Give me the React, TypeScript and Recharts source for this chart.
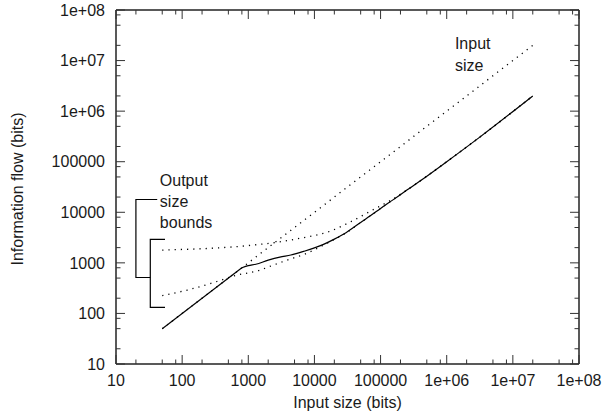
import React from 'react';
import { LineChart, Line, XAxis, YAxis, ReferenceDot, Label } from 'recharts';

const FONT = '"Liberation Sans", Arial, Helvetica, sans-serif';
const INK = '#1a1a1a';

// Measured information flow (solid): straight part, then curved part after the knee
const flowLinX = [50, 800];
const flowLinY = [50, 800];
const flowCurveX = [800, 1000, 1300, 2000, 3000, 4400, 7000, 10000, 14000, 20000, 30000, 50000, 70000, 100000, 150000, 250000, 400000, 1000000, 3200000, 20000000];
const flowCurveY = [800, 880, 940, 1130, 1300, 1430, 1700, 1980, 2350, 2950, 3950, 6300, 8500, 11900, 17200, 27500, 42000, 100000, 310000, 2000000];

// Input size (dotted, y = x)
const inputX = [50, 20000000];
const inputY = [50, 20000000];

// Output size upper bound (dotted)
const upperX = [50, 1200, 3000, 6000, 17500, 35000, 70000, 150000, 250000, 400000, 1000000, 3200000, 20000000];
const upperY = [1790, 2250, 2600, 3050, 4250, 6450, 10500, 18000, 27500, 42000, 100000, 310000, 2000000];

// Output size lower bound (dotted)
const lowerX = [50, 120, 380, 600, 1500, 2400, 4900, 7000, 10400, 17500, 30000, 50000, 70000, 100000, 150000, 250000, 400000, 1000000, 3200000, 20000000];
const lowerY = [224, 290, 450, 548, 720, 905, 1260, 1470, 1870, 2650, 3900, 6300, 8500, 11900, 17200, 27500, 42000, 100000, 310000, 2000000];

// Annotation brackets (data coordinates)
const outerBracketX = [42, 20, 20, 33];
const outerBracketY = [17900, 17900, 513, 513];
const innerBracketX = [55, 33, 33, 55];
const innerBracketY = [2920, 2920, 132, 132];

// Axis ticks
const majorTicks = [10, 100, 1000, 10000, 100000, 1000000, 10000000, 100000000];
const majorLabels = ['10', '100', '1000', '10000', '100000', '1e+06', '1e+07', '1e+08'];
const minorMultipliers = [2, 5, 8];

const allTicks: number[] = [];
majorTicks.forEach((m, i) => {
  allTicks.push(m);
  if (i < majorTicks.length - 1) minorMultipliers.forEach((k) => allTicks.push(k * m));
});
allTicks.sort((a, b) => a - b);

const toPts = (xs: number[], ys: number[]) => xs.map((x, i) => ({ x, y: ys[i] }));
const flowLinData = toPts(flowLinX, flowLinY);
const flowCurveData = toPts(flowCurveX, flowCurveY);
const inputData = toPts(inputX, inputY);
const upperData = toPts(upperX, upperY);
const lowerData = toPts(lowerX, lowerY);
const outerData = toPts(outerBracketX, outerBracketY);
const innerData = toPts(innerBracketX, innerBracketY);

const MAJOR_LEN = 9;
const MINOR_LEN = 4.5;
const TICK_STROKE = '#333';

const majorIndex = (v: number) => majorTicks.indexOf(v);

const BottomTick = (props: any) => {
  const { x, y, payload } = props;
  const mi = majorIndex(payload.value);
  const len = mi >= 0 ? MAJOR_LEN : MINOR_LEN;
  return (
    <g>
      <line x1={x} x2={x} y1={y} y2={y - len} stroke={TICK_STROKE} strokeWidth={1} />
      {mi >= 0 && (
        <text x={x} y={y + 22} textAnchor="middle" fontSize={16} fontFamily={FONT} fill={INK}>
          {majorLabels[mi]}
        </text>
      )}
    </g>
  );
};

const TopTick = (props: any) => {
  const { x, y, payload } = props;
  const len = majorIndex(payload.value) >= 0 ? MAJOR_LEN : MINOR_LEN;
  return <line x1={x} x2={x} y1={y} y2={y + len} stroke={TICK_STROKE} strokeWidth={1} />;
};

const LeftTick = (props: any) => {
  const { x, y, payload } = props;
  const mi = majorIndex(payload.value);
  const len = mi >= 0 ? MAJOR_LEN : MINOR_LEN;
  return (
    <g>
      <line x1={x} x2={x + len} y1={y} y2={y} stroke={TICK_STROKE} strokeWidth={1} />
      {mi >= 0 && (
        <text x={x - 11} y={y} dy="0.36em" textAnchor="end" fontSize={16} fontFamily={FONT} fill={INK}>
          {majorLabels[mi]}
        </text>
      )}
    </g>
  );
};

const RightTick = (props: any) => {
  const { x, y, payload } = props;
  const len = majorIndex(payload.value) >= 0 ? MAJOR_LEN : MINOR_LEN;
  return <line x1={x} x2={x - len} y1={y} y2={y} stroke={TICK_STROKE} strokeWidth={1} />;
};

const multiLineText = (lines: string[], gap: number) => (p: any) => (
  <text x={p.cx} y={p.cy} fontSize={16} fontFamily={FONT} fill={INK}>
    {lines.map((l, i) => (
      <tspan key={i} x={p.cx} dy={i === 0 ? 0 : gap}>
        {l}
      </tspan>
    ))}
  </text>
);

const axisLine = { stroke: '#222', strokeWidth: 1.5 };
const DOMAIN: [number, number] = [10, 100000000];

const dotted = { stroke: '#000', strokeWidth: 1.3, strokeDasharray: '1.2 5' };

export default function App() {
  return (
    <div style={{ position: 'absolute', left: 0, top: 0, width: 605, height: 419, background: '#fff' }}>
      <LineChart width={605} height={419} margin={{ top: 9, right: 25, bottom: 0, left: 0 }}>
        <XAxis
          xAxisId="b"
          dataKey="x"
          type="number"
          scale="log"
          domain={DOMAIN}
          ticks={allTicks}
          interval={0}
          orientation="bottom"
          height={55}
          tickSize={0}
          tickMargin={0}
          tickLine={false}
          axisLine={axisLine}
          tick={<BottomTick />}
          allowDataOverflow
        >
          <Label
            content={(p: any) => {
              const vb = p.viewBox;
              return (
                <text x={vb.x + vb.width / 2} y={vb.y + 44} textAnchor="middle" fontSize={16} fontFamily={FONT} fill={INK}>
                  Input size (bits)
                </text>
              );
            }}
          />
        </XAxis>
        <XAxis
          xAxisId="t"
          dataKey="x"
          type="number"
          scale="log"
          domain={DOMAIN}
          ticks={allTicks}
          interval={0}
          orientation="top"
          height={1}
          tickSize={0}
          tickMargin={0}
          tickLine={false}
          axisLine={axisLine}
          tick={<TopTick />}
          allowDataOverflow
        />
        <YAxis
          yAxisId="l"
          type="number"
          scale="log"
          domain={DOMAIN}
          ticks={allTicks}
          interval={0}
          orientation="left"
          width={116}
          tickSize={0}
          tickMargin={0}
          tickLine={false}
          axisLine={axisLine}
          tick={<LeftTick />}
          allowDataOverflow
        >
          <Label
            content={(p: any) => {
              const vb = p.viewBox;
              const cx = 22.5;
              const cy = vb.y + vb.height / 2 + 2;
              return (
                <text
                  x={cx}
                  y={cy}
                  transform={`rotate(-90, ${cx}, ${cy})`}
                  textAnchor="middle"
                  fontSize={16}
                  fontFamily={FONT}
                  fill={INK}
                >
                  Information flow (bits)
                </text>
              );
            }}
          />
        </YAxis>
        <YAxis
          yAxisId="r"
          type="number"
          scale="log"
          domain={DOMAIN}
          ticks={allTicks}
          interval={0}
          orientation="right"
          width={1}
          tickSize={0}
          tickMargin={0}
          tickLine={false}
          axisLine={axisLine}
          tick={<RightTick />}
          allowDataOverflow
        />

        <Line xAxisId="b" yAxisId="l" data={inputData} dataKey="y" type="linear" {...dotted} dot={false} isAnimationActive={false} />
        <Line xAxisId="b" yAxisId="l" data={upperData} dataKey="y" type="monotone" {...dotted} dot={false} isAnimationActive={false} />
        <Line xAxisId="b" yAxisId="l" data={lowerData} dataKey="y" type="monotone" {...dotted} dot={false} isAnimationActive={false} />
        <Line xAxisId="b" yAxisId="l" data={flowLinData} dataKey="y" type="linear" stroke="#000" strokeWidth={1.2} dot={false} isAnimationActive={false} />
        <Line xAxisId="b" yAxisId="l" data={flowCurveData} dataKey="y" type="monotone" stroke="#000" strokeWidth={1.2} dot={false} isAnimationActive={false} />
        <Line xAxisId="b" yAxisId="l" data={outerData} dataKey="y" type="linear" stroke="#000" strokeWidth={1.2} dot={false} isAnimationActive={false} />
        <Line xAxisId="b" yAxisId="l" data={innerData} dataKey="y" type="linear" stroke="#000" strokeWidth={1.2} dot={false} isAnimationActive={false} />

        <ReferenceDot xAxisId="b" yAxisId="l" x={46} y={33600} r={0} shape={multiLineText(['Output', 'size', 'bounds'], 21.3)} />
        <ReferenceDot xAxisId="b" yAxisId="l" x={1330000} y={17300000} r={0} shape={multiLineText(['Input', 'size'], 22.5)} />
      </LineChart>
    </div>
  );
}
